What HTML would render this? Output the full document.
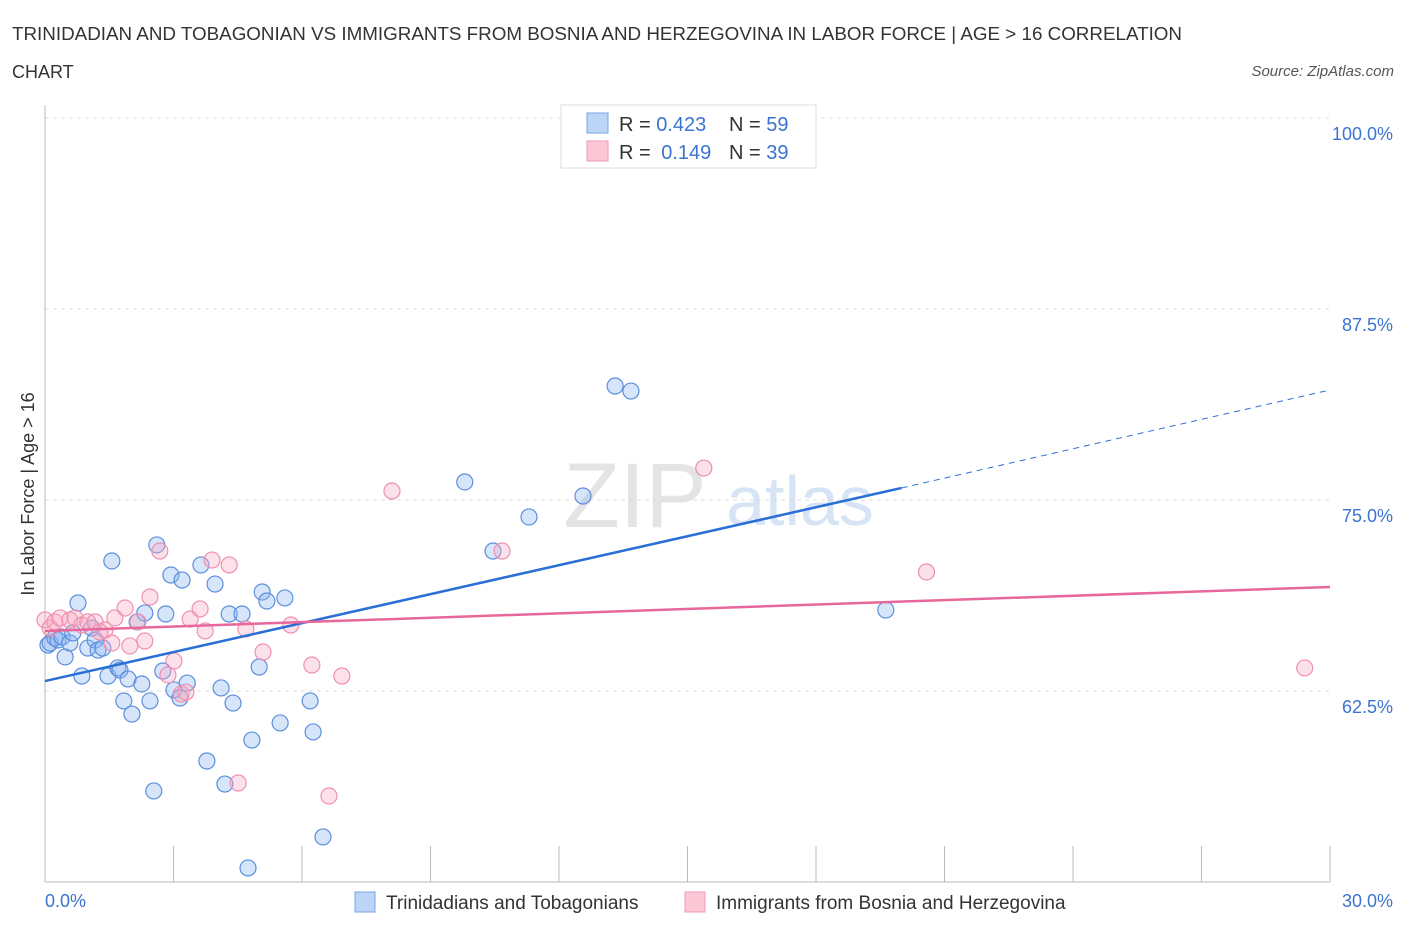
<!DOCTYPE html>
<html><head><meta charset="utf-8"><style>
body{margin:0;background:#fff;font-family:"Liberation Sans",sans-serif;}
svg text{font-family:"Liberation Sans",sans-serif;}
</style></head><body>
<svg id="chart" width="1406" height="930" xmlns="http://www.w3.org/2000/svg">
<text x="12" y="40" font-size="18" fill="#333" textLength="1170" lengthAdjust="spacingAndGlyphs">TRINIDADIAN AND TOBAGONIAN VS IMMIGRANTS FROM BOSNIA AND HERZEGOVINA IN LABOR FORCE | AGE &gt; 16 CORRELATION</text>
<text x="12" y="78" font-size="18" fill="#333">CHART</text>
<text x="1394" y="76" font-size="15" fill="#555" font-style="italic" text-anchor="end">Source: ZipAtlas.com</text>
<g>
<text x="635" y="527" font-size="92" fill="#e4e4e4" text-anchor="middle" font-family="Liberation Serif,serif">ZIP</text>
<text x="800" y="525" font-size="70" fill="#d6e4f6" text-anchor="middle">atlas</text>
</g>
<g id="grid"></g>
<g id="axes"></g>
<g id="marks"></g>
<g>
<rect x="561" y="105" width="255" height="63" fill="#fff" stroke="#ddd"/>
<rect x="587" y="113" width="21" height="20" fill="#bcd4f6" stroke="#7aa5e6"/>
<rect x="587" y="141" width="21" height="20" fill="#fcc8d8" stroke="#ef9ab6"/>
<text x="619" y="131" font-size="20" fill="#333">R = <tspan fill="#3a73d0">0.423</tspan></text>
<text x="729" y="131" font-size="20" fill="#333">N = <tspan fill="#3a73d0">59</tspan></text>
<text x="619" y="159" font-size="20" fill="#333">R = <tspan fill="#3a73d0" dx="5">0.149</tspan></text>
<text x="729" y="159" font-size="20" fill="#333">N = <tspan fill="#3a73d0">39</tspan></text>
</g>
<g>
<rect x="355" y="892" width="20" height="20" fill="#bcd4f6" stroke="#7aa5e6"/>
<text x="386" y="909" font-size="19" fill="#333">Trinidadians and Tobagonians</text>
<rect x="685" y="892" width="20" height="20" fill="#fcc8d8" stroke="#ef9ab6"/>
<text x="716" y="909" font-size="19" fill="#333">Immigrants from Bosnia and Herzegovina</text>
</g>
<text transform="translate(34,494) rotate(-90)" font-size="18" fill="#333" text-anchor="middle">In Labor Force | Age &gt; 16</text>
</svg>
<script>
const blueX=[0.07,0.12,0.23,0.30,0.40,0.47,0.58,0.65,0.77,0.86,1.00,1.09,1.17,1.24,1.35,1.47,1.56,1.70,1.75,1.84,1.94,2.03,2.15,2.26,2.33,2.45,2.54,2.61,2.75,2.82,2.94,3.01,3.15,3.20,3.32,3.64,3.97,4.11,4.20,4.30,4.39,4.60,4.74,4.83,5.00,5.07,5.18,5.49,5.60,6.19,6.26,6.49,3.78,9.80,10.46,11.30,12.56,13.31,13.68,19.63];
const blueY=[65.51,65.64,65.97,65.84,66.03,64.73,65.64,66.30,68.26,63.48,65.31,66.62,65.84,65.18,65.31,63.48,71.01,64.01,63.87,61.85,63.29,60.99,67.02,62.96,67.60,61.85,55.96,72.06,63.81,67.54,70.09,62.57,62.04,69.76,63.02,70.75,69.50,62.70,56.41,67.54,61.71,67.54,50.92,59.29,64.07,68.98,68.39,60.41,68.59,61.85,59.82,52.95,57.92,76.18,71.66,73.89,75.26,82.46,82.13,67.80];
const pinkX=[0.00,0.12,0.23,0.35,0.58,0.70,0.86,1.00,1.17,1.28,1.40,1.56,1.63,1.87,1.98,2.17,2.33,2.45,2.68,2.87,3.01,3.18,3.29,3.39,3.62,3.74,3.90,4.30,4.69,4.51,5.09,5.74,6.23,6.93,6.63,8.10,10.67,15.38,20.58,29.41];
const pinkY=[67.15,66.62,67.02,67.28,67.15,67.28,66.82,67.02,67.02,66.36,66.49,65.64,67.28,67.93,65.45,67.02,65.77,68.65,71.66,63.55,64.46,62.30,62.43,67.21,67.87,66.43,71.07,70.75,66.56,56.48,65.05,66.82,64.20,63.48,55.63,75.59,71.66,77.09,70.29,64.01];
const blueTrend=[[0,63.15],[20.0,75.79],[30,82.20]];
const pinkTrend=[[0,66.43],[30,69.31]];
const yTicks=[100,87.5,75,62.5];
const yTickLabels=["100.0%","87.5%","75.0%","62.5%"];
const xTicks=[0,3,6,9,12,15,18,21,24,27,30];
const NS="http://www.w3.org/2000/svg";
const sx=v=>45+v/30*1285;
const sy=v=>118+(100-v)/12.5*191;
function mk(tag,attrs,parent){const e=document.createElementNS(NS,tag);for(const k in attrs)e.setAttribute(k,attrs[k]);parent.appendChild(e);return e;}
const grid=document.getElementById('grid'),axes=document.getElementById('axes'),marks=document.getElementById('marks');
yTicks.forEach((t,i)=>{
 const l=mk('line',{x1:45,x2:1330,y1:sy(t),y2:sy(t),stroke:'#ddd','stroke-dasharray':'4,4'},grid);
 
 
 const tx=mk('text',{x:1393,y:sy(t)+22,'font-size':18,fill:'#3a73d0','text-anchor':'end'},axes);
 tx.textContent=yTickLabels[i];
 
 
});
const ya=mk('line',{x1:45,x2:45,y1:105,y2:882,stroke:'#bbb'},axes);


const xa=mk('line',{x1:45,x2:1330,y1:882,y2:882,stroke:'#bbb'},axes);


xTicks.forEach(t=>{
 const l=mk('line',{x1:sx(t),x2:sx(t),y1:846,y2:882,stroke:'#bbb'},axes);
 
 
});
const xl0=mk('text',{x:45,y:907,'font-size':18,fill:'#3a73d0'},axes);xl0.textContent="0.0%";


const xl1=mk('text',{x:1393,y:907,'font-size':18,fill:'#3a73d0','text-anchor':'end'},axes);xl1.textContent="30.0%";


blueX.forEach((x,i)=>{
 const c=mk('circle',{cx:sx(x),cy:sy(blueY[i]),r:8,fill:'rgba(140,180,240,0.35)',stroke:'#5b8fdc','stroke-width':1.2},marks);
 
 
});
pinkX.forEach((x,i)=>{
 const c=mk('circle',{cx:sx(x),cy:sy(pinkY[i]),r:8,fill:'rgba(250,170,195,0.35)',stroke:'#ef8fb0','stroke-width':1.2},marks);
 
 
});
const b1=mk('line',{x1:sx(blueTrend[0][0]),y1:sy(blueTrend[0][1]),x2:sx(blueTrend[1][0]),y2:sy(blueTrend[1][1]),stroke:'#2a6fd6','stroke-width':2.5},marks);


const b2=mk('line',{x1:sx(blueTrend[1][0]),y1:sy(blueTrend[1][1]),x2:sx(blueTrend[2][0]),y2:sy(blueTrend[2][1]),stroke:'#2a6fd6','stroke-width':1,'stroke-dasharray':'6,5'},marks);


const p1=mk('line',{x1:sx(pinkTrend[0][0]),y1:sy(pinkTrend[0][1]),x2:sx(pinkTrend[1][0]),y2:sy(pinkTrend[1][1]),stroke:'#e8679a','stroke-width':2.5},marks);


</script>
</body></html>
